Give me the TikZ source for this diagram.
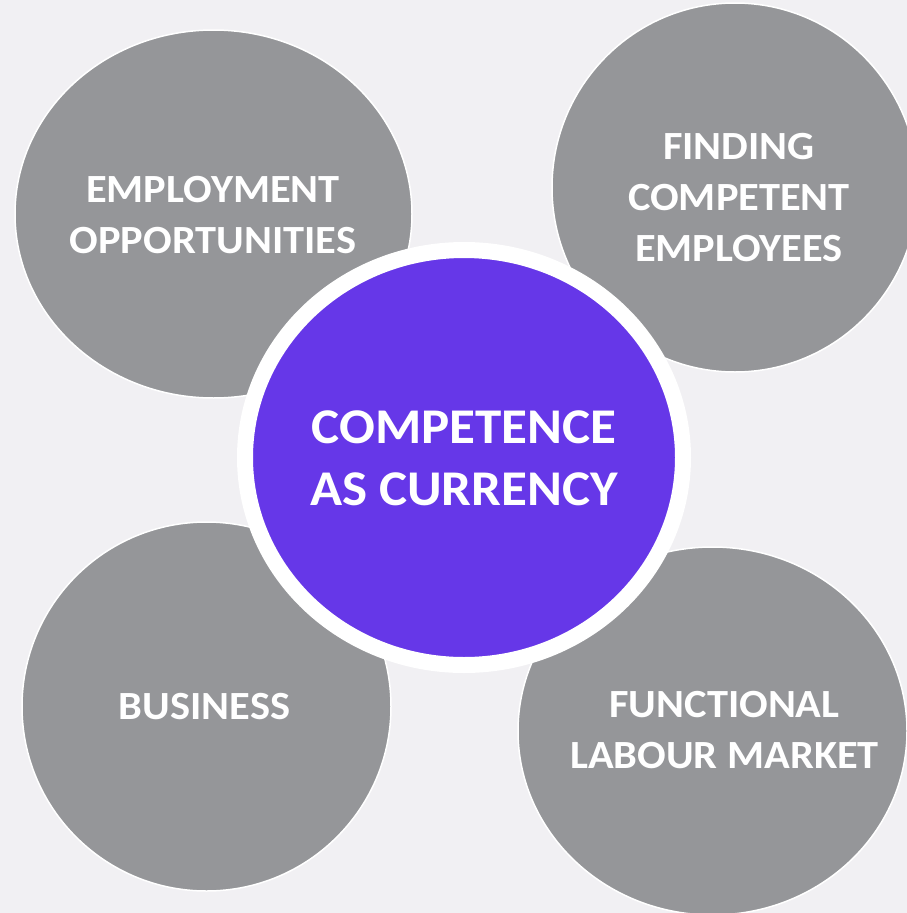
\documentclass[tikz,border=0pt]{standalone}
\usepackage{fontspec}
\setmainfont{Carlito}[FakeStretch=1.06]
\usetikzlibrary{shapes.geometric}
\definecolor{bgcol}{HTML}{F1F0F3}
\definecolor{graycirc}{HTML}{959699}
\definecolor{purplecirc}{HTML}{6637E8}
\tikzset{
  graybubble/.style={ellipse, fill=graycirc, draw=white, line width=1.5pt, inner sep=0pt},
  centerbubble/.style={ellipse, fill=purplecirc, draw=white, line width=16pt, inner sep=0pt},
  graylabel/.style={text=white, align=center, inner sep=0pt, font=\bfseries\fontsize{40}{51}\selectfont},
  centerlabel/.style={text=white, align=center, inner sep=0pt, font=\bfseries\fontsize{50}{62}\selectfont}
}
\begin{document}
\begin{tikzpicture}[x=1pt,y=-1pt]
\useasboundingbox (0,0) rectangle (907,913);
\clip (0,0) rectangle (907,913);
\fill[bgcol] (0,0) rectangle (907,913);
\node[graybubble, minimum width=397pt, minimum height=368pt] (tl) at (213.5,214) {};
\node[graybubble, minimum width=366pt, minimum height=369pt] (tr) at (735,187.5) {};
\node[graybubble, minimum width=369pt, minimum height=369pt] (bl) at (206.5,706.5) {};
\node[graybubble, minimum width=389pt, minimum height=368pt] (br) at (712.5,731) {};
\node[centerbubble, minimum width=438pt, minimum height=415pt] (c) at (464,457.5) {};
\node[graylabel] (tltext) at (213,215.5) {EMPLOYMENT\\OPPORTUNITIES};
\node[graylabel] (trtext) at (739,197.5) {FINDING\\COMPETENT\\EMPLOYEES};
\node[graylabel] (bltext) at (204.5,706.5) {BUSINESS};
\node[graylabel] (brtext) at (724.5,730) {FUNCTIONAL\\LABOUR MARKET};
\node[centerlabel] (ctext) at (464,458) {COMPETENCE\\AS CURRENCY};
\end{tikzpicture}
\end{document}
